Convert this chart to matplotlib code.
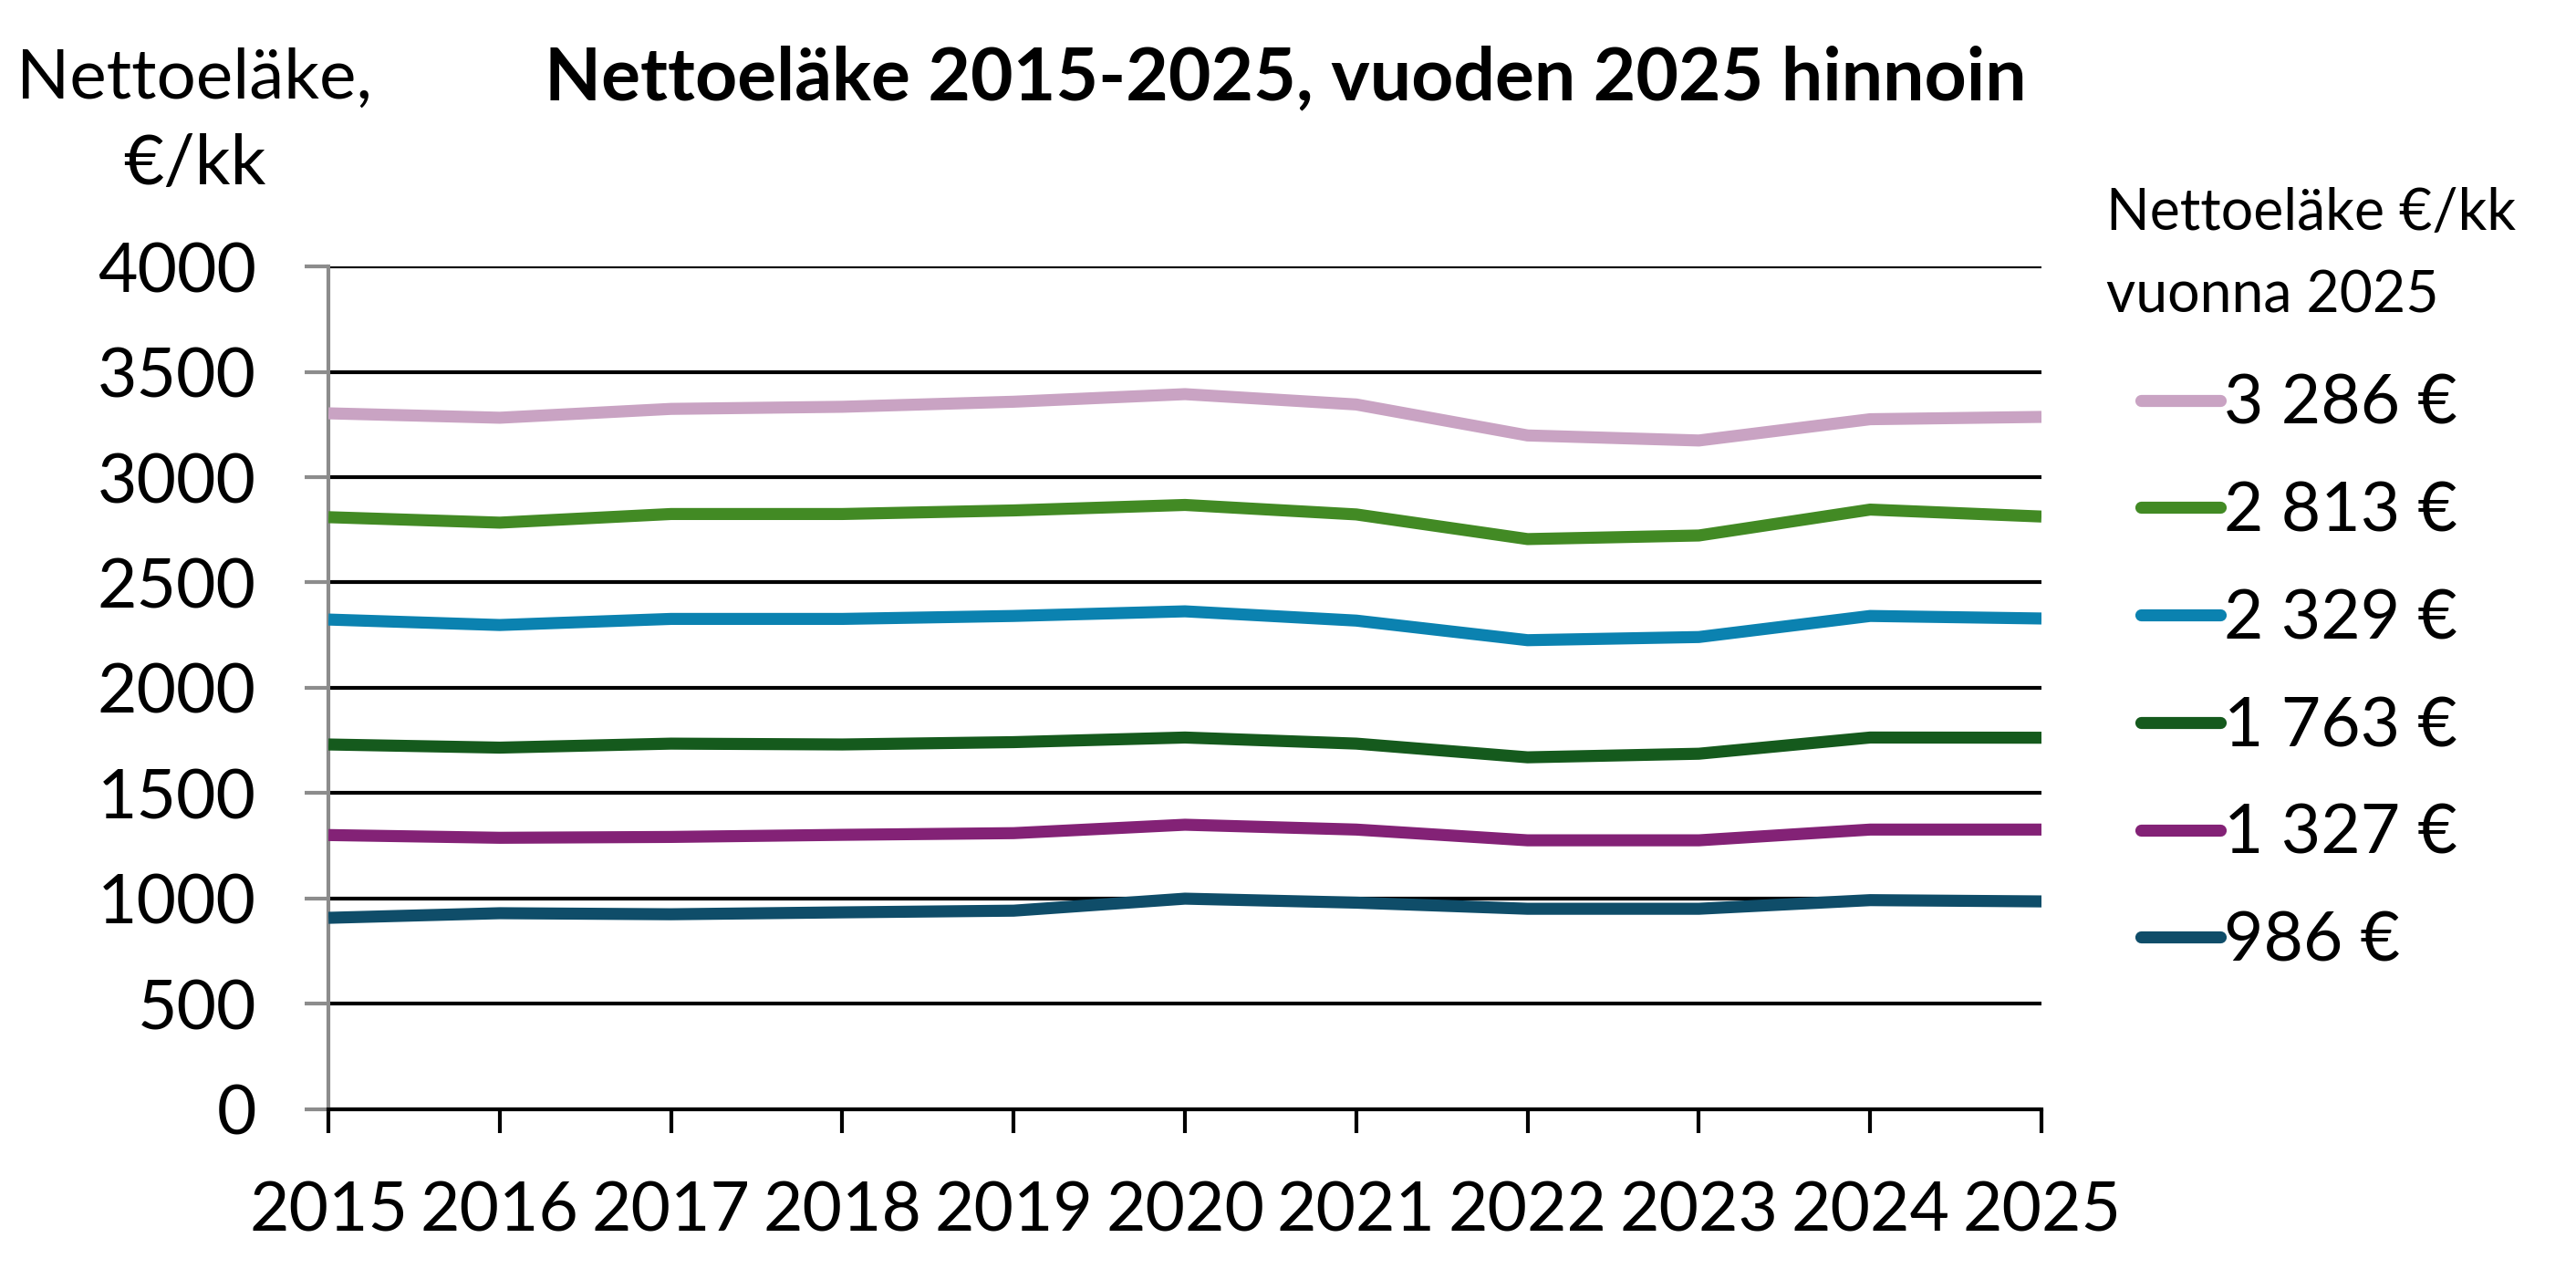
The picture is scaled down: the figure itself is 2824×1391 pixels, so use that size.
import matplotlib
matplotlib.use("Agg")
import matplotlib.pyplot as plt

plt.rcParams['font.family'] = ['Lato', 'DejaVu Sans']

years = [2015, 2016, 2017, 2018, 2019, 2020, 2021, 2022, 2023, 2024, 2025]

pension_3286 = [3303, 3282, 3324, 3334, 3358, 3394, 3345, 3198, 3174, 3275, 3286]
pension_2813 = [2810, 2784, 2825, 2825, 2842, 2868, 2823, 2706, 2723, 2846, 2813]
pension_2329 = [2324, 2298, 2327, 2327, 2341, 2363, 2319, 2226, 2241, 2341, 2329]
pension_1763 = [1731, 1716, 1735, 1731, 1742, 1764, 1735, 1670, 1687, 1764, 1763]
pension_1327 = [1301, 1288, 1292, 1302, 1310, 1350, 1327, 1276, 1276, 1327, 1327]
pension_986 = [908, 930, 925, 934, 942, 999, 980, 951, 951, 992, 986]

series = [pension_3286, pension_2813, pension_2329, pension_1763, pension_1327, pension_986]
labels = ['3 286 €', '2 813 €', '2 329 €', '1 763 €', '1 327 €', '986 €']
colors = ['#C9A3C3', '#428A24', '#0B82B0', '#155A1D', '#832276', '#0F4D69']

F = plt.figure(figsize=(28.24, 13.91), dpi=100)
ax = F.add_axes([0.1275, 0.126, 0.665, 0.664])

for vals, lab, col in zip(series, labels, colors):
    ax.plot(years, vals, color=col, lw=9.5, label=lab, solid_capstyle='butt', zorder=3)

ax.set_xlim(2015, 2025)
ax.set_ylim(0, 4000)
ax.set_xticks(years)
ax.set_yticks(range(0, 4001, 500))
ax.yaxis.grid(True, color='black', lw=3)
ax.set_axisbelow(True)

for s in ['top', 'right']:
    ax.spines[s].set_visible(False)
ax.spines['left'].set_color('#8c8c8c')
ax.spines['left'].set_linewidth(3)
ax.spines['bottom'].set_color('black')
ax.spines['bottom'].set_linewidth(3)

ax.tick_params(axis='y', labelsize=54, length=19, width=3, color='#8c8c8c', pad=38)
ax.tick_params(axis='x', labelsize=54, length=19, width=3, color='black', pad=37)

# title and y-axis caption
F.text(0.499, 0.938, 'Nettoeläke 2015-2025, vuoden 2025 hinnoin',
       fontsize=58, fontweight='bold', ha='center', va='center')
F.text(0.0755, 0.938, 'Nettoeläke,', fontsize=55, ha='center', va='center')
F.text(0.0755, 0.87, '€/kk', fontsize=55, ha='center', va='center')

# legend heading
F.text(0.8176, 0.832, 'Nettoeläke €/kk', fontsize=45, ha='left', va='center')
F.text(0.8176, 0.767, 'vuonna 2025', fontsize=45, ha='left', va='center')

leg = ax.legend(loc='upper left', bbox_to_anchor=(0.831, 0.706), bbox_transform=F.transFigure,
                fontsize=54, frameon=False, handlelength=1.17, handletextpad=0.05,
                labelspacing=0.65, borderaxespad=0, borderpad=0)
for h in leg.get_lines():
    h.set_linewidth(9.5)
    h.set_solid_capstyle('round')

F.savefig("out.png", dpi=100)
